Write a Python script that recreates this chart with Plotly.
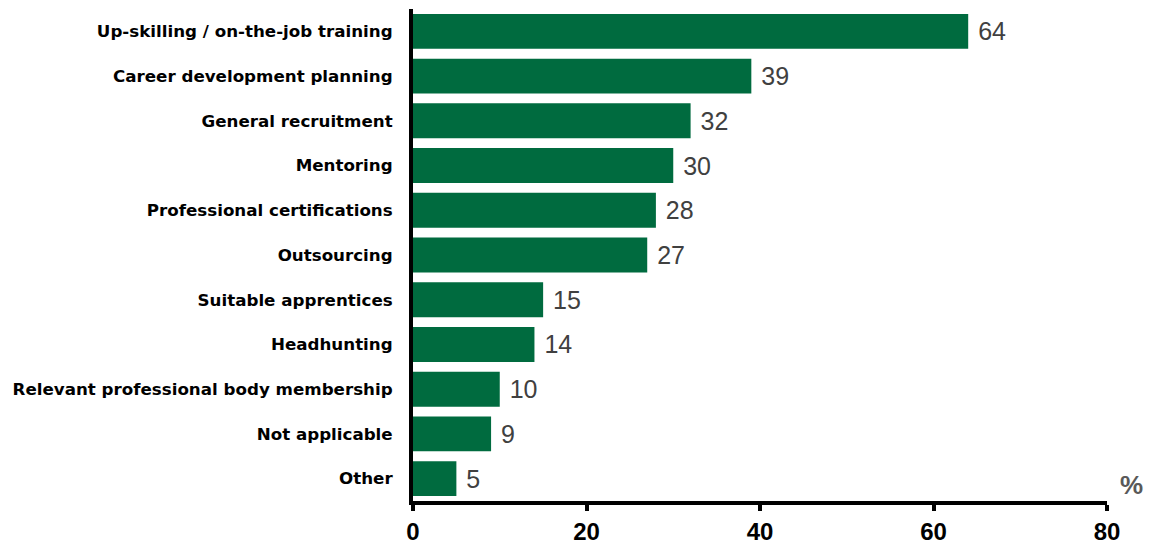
import plotly.graph_objects as go

categories = [
    "Up-skilling / on-the-job training",
    "Career development planning",
    "General recruitment",
    "Mentoring",
    "Professional certifications",
    "Outsourcing",
    "Suitable apprentices",
    "Headhunting",
    "Relevant professional body membership",
    "Not applicable",
    "Other",
]
values = [64, 39, 32, 30, 28, 27, 15, 14, 10, 9, 5]
x_ticks = [0, 20, 40, 60, 80]

L, R, T, B = 413, 47, 9, 45
W, H = 1154, 546

fig = go.Figure(
    go.Bar(
        y=categories,
        x=values,
        orientation="h",
        marker=dict(color="#006B3F", line=dict(width=0)),
        text=[" " + str(v) for v in values],
        textposition="outside",
        textfont=dict(family="Arial, Liberation Sans", size=25, color="#404040"),
        cliponaxis=False,
    )
)

plot_w = W - L - R
plot_h = H - T - B

fig.update_layout(
    width=W,
    height=H,
    margin=dict(l=L, r=R, t=T, b=B),
    plot_bgcolor="white",
    paper_bgcolor="white",
    bargap=0.22,
    showlegend=False,
    xaxis=dict(
        range=[0, 80],
        tickvals=x_ticks,
        ticktext=[f"<b>{t}</b>" for t in x_ticks],
        tickfont=dict(family="Arial, Liberation Sans", size=24, color="black"),
        showgrid=False,
        zeroline=False,
        showline=True,
        linecolor="black",
        linewidth=4,
        ticks="outside",
        ticklen=6,
        tickwidth=4,
        tickcolor="black",
        automargin=False,
    ),
    yaxis=dict(
        categoryorder="array",
        categoryarray=categories[::-1],
        ticktext=[f"<b>{c}</b>" for c in categories[::-1]],
        tickvals=categories[::-1],
        tickfont=dict(family="DejaVu Sans", size=16.7, color="black"),
        showgrid=False,
        zeroline=False,
        showline=True,
        linecolor="black",
        linewidth=4,
        ticks="",
        ticklabelstandoff=13,
        automargin=False,
    ),
    annotations=[
        dict(
            text="<b>%</b>",
            x=(1131 - L) / plot_w,
            y=(H - B - 485) / plot_h,
            xref="paper", yref="paper",
            xanchor="center", yanchor="middle",
            showarrow=False,
            font=dict(family="Arial, Liberation Sans", size=26, color="#595959"),
        )
    ],
)

fig.write_html("out.html")
